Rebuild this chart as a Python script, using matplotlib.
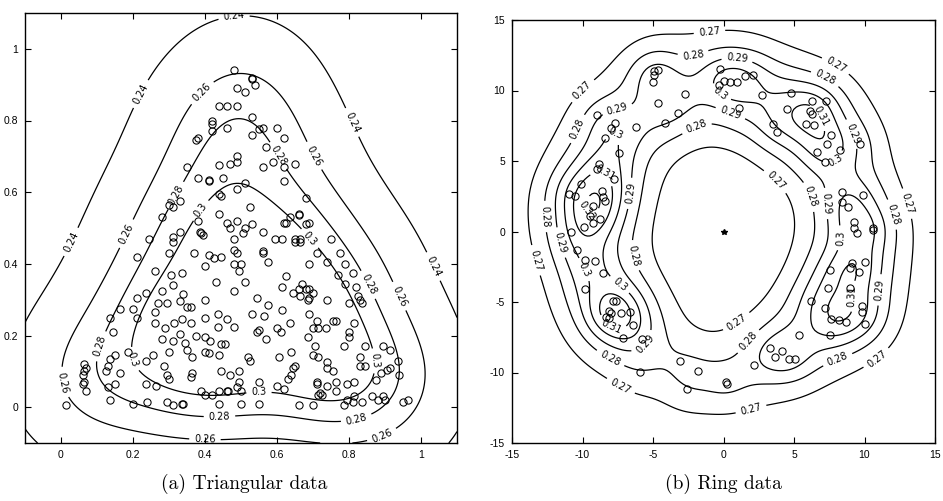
import numpy as np
import matplotlib
matplotlib.use("Agg")
import matplotlib.pyplot as plt

# ---------------- data: triangular set ----------------
tri_pts = [
(0.48,0.94),(0.53,0.92),(0.53,0.915),(0.54,0.90),(0.49,0.89),(0.51,0.88),
(0.44,0.84),(0.46,0.84),(0.49,0.84),(0.53,0.81),(0.42,0.80),(0.42,0.79),(0.42,0.77),(0.46,0.78),(0.56,0.78),(0.55,0.775),(0.60,0.78),(0.53,0.76),(0.62,0.75),(0.38,0.75),(0.375,0.745),(0.57,0.725),(0.49,0.70),
(0.35,0.67),(0.44,0.675),(0.47,0.68),(0.49,0.685),(0.45,0.64),(0.59,0.685),(0.56,0.67),(0.62,0.67),(0.65,0.68),(0.38,0.64),(0.41,0.63),(0.41,0.635),(0.62,0.63),(0.49,0.61),(0.51,0.625),(0.44,0.595),(0.445,0.59),(0.33,0.575),(0.31,0.56),(0.30,0.565),(0.68,0.585),(0.525,0.56),
(0.28,0.53),(0.38,0.52),(0.44,0.54),(0.46,0.515),(0.47,0.50),(0.49,0.52),(0.66,0.54),(0.66,0.535),(0.62,0.515),(0.625,0.515),(0.635,0.53),(0.68,0.51),(0.69,0.515),(0.53,0.51),(0.51,0.50),(0.505,0.485),(0.56,0.49),(0.385,0.49),(0.39,0.485),(0.395,0.48),(0.33,0.49),(0.31,0.475),(0.31,0.46),(0.245,0.47),(0.48,0.47),(0.595,0.47),(0.615,0.47),(0.65,0.47),(0.665,0.47),(0.75,0.47),(0.65,0.46),(0.665,0.46),
(0.48,0.44),(0.49,0.43),(0.37,0.43),(0.30,0.43),(0.21,0.42),(0.41,0.425),(0.425,0.415),(0.445,0.42),(0.56,0.435),(0.56,0.43),(0.71,0.43),(0.775,0.43),(0.40,0.395),(0.48,0.40),(0.50,0.40),(0.575,0.405),(0.69,0.40),(0.74,0.405),(0.79,0.40),(0.495,0.38),(0.26,0.38),(0.305,0.37),(0.335,0.375),(0.625,0.365),(0.77,0.37),(0.81,0.375),
(0.43,0.35),(0.51,0.35),(0.79,0.345),(0.615,0.335),(0.82,0.335),(0.31,0.34),(0.28,0.325),(0.34,0.315),(0.235,0.32),(0.48,0.325),(0.645,0.32),(0.66,0.33),(0.67,0.345),(0.68,0.33),(0.69,0.33),(0.70,0.32),(0.665,0.31),(0.685,0.30),(0.69,0.305),(0.21,0.305),(0.27,0.29),(0.295,0.29),(0.33,0.295),(0.35,0.28),(0.36,0.28),(0.40,0.30),(0.545,0.305),(0.575,0.285),(0.615,0.27),(0.74,0.30),(0.825,0.31),(0.83,0.30),(0.835,0.29),(0.80,0.29),
(0.20,0.275),(0.165,0.275),(0.26,0.265),(0.21,0.25),(0.135,0.25),(0.315,0.235),(0.335,0.245),(0.36,0.235),(0.26,0.235),(0.40,0.25),(0.435,0.26),(0.435,0.225),(0.46,0.245),(0.48,0.225),(0.53,0.26),(0.565,0.255),(0.69,0.26),(0.29,0.22),(0.33,0.205),(0.145,0.21),(0.375,0.20),(0.40,0.195),(0.415,0.185),(0.28,0.19),(0.31,0.185),(0.345,0.18),(0.35,0.16),(0.445,0.175),(0.455,0.175),(0.635,0.235),(0.70,0.22),(0.71,0.24),(0.715,0.22),(0.735,0.22),(0.755,0.24),(0.765,0.24),(0.815,0.235),(0.80,0.21),(0.80,0.195),(0.545,0.21),(0.55,0.215),(0.60,0.22),(0.61,0.21),(0.57,0.19),(0.685,0.195),
(0.30,0.155),(0.365,0.14),(0.40,0.155),(0.41,0.15),(0.44,0.145),(0.15,0.145),(0.135,0.135),(0.13,0.115),(0.185,0.155),(0.255,0.145),(0.235,0.13),(0.785,0.17),(0.845,0.17),(0.895,0.17),(0.915,0.16),(0.705,0.17),(0.64,0.155),(0.70,0.145),(0.715,0.14),(0.605,0.14),(0.52,0.14),(0.525,0.13),(0.83,0.14),(0.83,0.115),(0.845,0.115),(0.74,0.125),(0.74,0.11),(0.755,0.10),(0.65,0.115),(0.645,0.11),(0.64,0.09),(0.63,0.08),
(0.065,0.12),(0.07,0.11),(0.065,0.10),(0.125,0.10),(0.165,0.095),(0.06,0.09),(0.065,0.07),(0.06,0.065),(0.07,0.045),(0.15,0.065),(0.13,0.055),(0.235,0.065),(0.265,0.06),(0.285,0.115),(0.295,0.09),(0.30,0.08),(0.365,0.095),(0.36,0.085),(0.445,0.10),(0.47,0.09),(0.495,0.10),(0.495,0.07),(0.935,0.13),(0.89,0.095),(0.905,0.105),(0.915,0.11),(0.94,0.09),(0.875,0.075),(0.71,0.07),(0.71,0.065),(0.55,0.07),(0.60,0.06),(0.74,0.06),(0.765,0.07),(0.765,0.045),(0.795,0.065),(0.815,0.07),(0.72,0.04),(0.725,0.035),(0.715,0.035),(0.62,0.05),(0.50,0.045),(0.46,0.045),(0.39,0.045),(0.40,0.035),(0.42,0.035),(0.44,0.045),(0.465,0.045),(0.49,0.055),
(0.88,0.02),(0.865,0.03),(0.895,0.03),(0.90,0.02),(0.815,0.03),(0.835,0.015),(0.795,0.02),(0.81,0.015),(0.785,0.005),(0.965,0.02),(0.95,0.015),(0.70,0.005),(0.66,0.005),(0.55,0.01),(0.50,0.01),(0.135,0.02),(0.015,0.005),(0.20,0.01),(0.24,0.015),(0.295,0.015),(0.31,0.005),(0.335,0.01),(0.34,0.01),(0.44,0.01),
]
tri_levels = [0.24, 0.26, 0.28, 0.3]
# points where contour lines of the reference cross (x, y, level)
tri_anchors = [
(0.48,1.095,0.24),(-0.1,0.27,0.24),(1.1,0.37,0.24),(0.21,0.88,0.24),(0.82,0.80,0.24),(1.025,0.47,0.24),(-0.09,-0.08,0.24),(0.01,0.47,0.24),
(0.40,0.87,0.26),(0.015,0.14,0.26),(0.01,0.06,0.26),(0.40,-0.085,0.26),(0.94,0.31,0.26),(0.70,0.70,0.26),(0.48,0.91,0.26),(0.89,-0.075,0.26),(0.18,0.485,0.26),
(0.11,0.17,0.28),(0.44,-0.02,0.28),(0.85,0.34,0.28),(0.60,0.70,0.28),(0.32,0.59,0.28),(0.50,0.80,0.28),(0.82,-0.03,0.28),(0.136,0.05,0.28),
(0.19,0.13,0.3),(0.55,0.04,0.3),(0.88,0.13,0.3),(0.50,0.65,0.3),(0.38,0.555,0.3),(0.48,0.036,0.3),
]
tri_label_pos = [
(0.48,1.095),(0.21,0.88),(0.82,0.80),(0.01,0.47),(1.05,0.40),
(0.40,0.87),(0.18,0.485),(0.70,0.70),(0.01,0.07),(0.40,-0.085),(0.89,-0.075),(0.94,0.31),
(0.32,0.59),(0.60,0.70),(0.11,0.17),(0.44,-0.02),(0.82,-0.03),(0.85,0.34),
(0.38,0.555),(0.19,0.13),(0.69,0.47),(0.55,0.04),(0.88,0.13),
]

# ---------------- data: ring set ----------------
ring_pts = [
(-4.95,11.4),(-4.67,11.45),(-4.9,11.1),(-5.0,10.6),(-4.65,9.1),(-2.73,9.75),(-3.2,8.43),(-4.17,7.7),(-6.2,7.4),(-8.97,8.26),(-7.95,7.36),(-7.7,7.67),(-8.43,6.6),(-7.41,5.6),(-8.8,4.76),(-9.0,4.4),(-7.79,3.72),(-10.1,3.35),(-10.98,2.64),(-10.5,2.5),(-8.62,2.9),(-8.55,2.47),(-8.38,2.16),(-9.28,1.81),(-9.44,1.12),(-8.78,0.89),(-9.28,0.58),(-9.9,0.3),(-10.8,0.0),
(-10.4,-1.3),(-9.8,-2.05),(-9.1,-2.1),(-8.57,-2.95),(-9.85,-4.06),(-7.84,-4.95),(-7.65,-4.95),(-8.14,-5.66),(-7.98,-5.78),(-8.31,-6.06),(-8.1,-6.15),(-7.27,-5.78),(-6.6,-5.73),(-6.42,-6.6),(-7.15,-7.55),(-5.76,-7.62),(-5.9,-9.95),(-3.1,-9.2),(-1.78,-9.9),(-2.6,-11.15),
(-0.24,11.53),(-0.35,10.42),(0.0,10.7),(0.47,10.6),(0.99,10.6),(1.53,11.06),(2.12,11.13),(2.71,9.65),(4.76,9.81),(4.53,8.66),(6.3,9.25),(7.26,9.29),(6.13,8.54),(6.25,8.35),(5.85,7.6),(6.42,7.53),(7.62,6.82),(7.36,6.19),(6.6,5.65),(7.19,4.94),(8.25,5.81),(9.67,6.24),(1.13,8.75),(3.54,7.65),(3.82,7.06),
(8.4,2.78),(8.4,2.12),(8.84,1.76),(9.9,2.59),(9.25,0.7),(9.25,0.24),(10.57,0.24),(10.6,0.1),
(9.48,-0.12),(9.08,-2.24),(8.96,-2.59),(10.07,-2.19),(9.62,-2.87),(7.55,-2.75),(7.43,-4.0),(8.96,-4.0),(6.18,-4.94),(7.19,-5.41),(7.62,-6.19),(8.21,-6.28),(8.66,-6.42),(9.79,-5.29),(9.79,-5.72),(10.0,-6.59),(7.55,-7.36),(5.38,-7.34),(3.3,-8.24),(4.13,-8.47),(3.66,-8.89),(4.67,-9.06),(5.07,-9.06),(2.19,-9.46),(0.24,-10.82),(0.15,-10.7),
]
ring_center = (0.0, 0.0)
ring_levels = [0.27, 0.28, 0.29, 0.3, 0.31, 0.32]
ring_anchors = [
(-10.15,10.15,0.27),(-1.0,14.2,0.27),(8.02,11.88,0.27),(13.1,2.0,0.27),(11.08,-9.29,0.27),(2.0,-12.78,0.27),(-7.55,-11.44,0.27),(-13.58,-2.12,0.27),(-14.05,1.5,0.27),
(3.66,3.53,0.27),(1.06,-6.59,0.27),(-4.48,2.94,0.27),(-0.93,5.78,0.27),(0.24,-6.94,0.27),(-4.95,-2.0,0.27),(5.2,0.1,0.27),
(-10.4,7.3,0.28),(-12.87,1.05,0.28),(-8.14,-9.2,0.28),(8.14,-9.2,0.28),(11.9,1.18,0.28),(7.08,10.6,0.28),(-2.12,12.4,0.28),
(6.13,2.47,0.28),(2.0,-8.0,0.28),(-6.6,-1.77,0.28),(-1.88,7.32,0.28),
(-7.55,8.74,0.29),(-11.7,-0.83,0.29),(-5.66,-7.9,0.29),(10.85,-4.12,0.29),(9.2,6.94,0.29),(0.94,11.95,0.29),(-6.6,2.7,0.29),(7.43,2.0,0.29),
(-7.43,7.2,0.3),(-9.92,-2.71,0.3),(-7.55,-4.0,0.3),(8.73,-0.47,0.3),(7.67,5.41,0.3),(0.0,10.12,0.3),
(-8.38,4.24,0.31),(-7.9,-6.6,0.31),(6.49,8.0,0.31),(8.96,-4.59,0.31),
(-10.2,1.5,0.32),(-8.4,1.5,0.32),(-9.2,3.3,0.32),(-9.3,-0.4,0.32),
]
ring_label_pos = [
(-10.15,10.15),(-1.0,14.2),(8.02,11.88),(13.1,2.0),(11.08,-9.29),(2.0,-12.78),(-7.55,-11.44),(-13.58,-2.12),
(3.66,3.53),(1.06,-6.59),
(-10.4,7.3),(-12.87,1.05),(-8.14,-9.2),(8.14,-9.2),(11.9,1.18),(7.08,10.6),(-2.12,12.4),(6.13,2.47),(2.0,-8.0),(-6.6,-1.77),(-1.88,7.32),
(-7.55,8.74),(-11.7,-0.83),(-5.66,-7.9),(10.85,-4.12),(9.2,6.94),(0.94,11.95),(-6.6,2.7),(7.43,2.0),(0.6,8.7),
(-7.43,7.2),(-9.92,-2.71),(-7.55,-4.0),(8.73,-0.47),(7.67,5.41),(0.0,10.12),
(-8.38,4.24),(-7.9,-6.6),(6.49,8.0),(8.96,-4.59),(-10.0,1.3),
]


def kern(P, gx, gy, h):
    dx = gx[..., None] - P[:, 0]
    dy = gy[..., None] - P[:, 1]
    return np.exp(-(dx * dx + dy * dy) / (2 * h * h)).mean(-1)


def fit_field(P, anchors, hs):
    A = np.asarray(anchors, float)
    best = None
    for h1 in hs:
        for h2 in hs:
            if h2 < h1:
                continue
            M = np.column_stack([np.ones(len(A)), kern(P, A[:, 0], A[:, 1], h1),
                                 kern(P, A[:, 0], A[:, 1], h2)])
            coef, *_ = np.linalg.lstsq(M, A[:, 2], rcond=None)
            r = np.sum((M @ coef - A[:, 2]) ** 2)
            if best is None or r < best[0]:
                best = (r, h1, h2, coef)
    return best


def field(P, best, gx, gy):
    _, h1, h2, c = best
    return c[0] + c[1] * kern(P, gx, gy, h1) + c[2] * kern(P, gx, gy, h2)


fmt = lambda v: f"{v:g}"

fig = plt.figure(figsize=(9.43, 5.01), dpi=100)
ax1 = fig.add_axes([25 / 943, 58 / 501, 432 / 943, 430 / 501])
ax2 = fig.add_axes([512 / 943, 58 / 501, 423 / 943, 423 / 501])

tick_font = dict(family="Liberation Sans", size=7.5)

# ---- triangular ----
TP = np.array(tri_pts)
best_t = fit_field(TP, tri_anchors, [0.04, 0.06, 0.08, 0.1, 0.12, 0.15, 0.18, 0.22, 0.27, 0.33, 0.4, 0.5])
gx, gy = np.meshgrid(np.linspace(-0.1, 1.1, 181), np.linspace(-0.1, 1.1, 181))
Zt = field(TP, best_t, gx, gy)
cs1 = ax1.contour(gx, gy, Zt, levels=tri_levels, colors="black", linewidths=0.9)
ax1.clabel(cs1, manual=tri_label_pos, inline=True, fontsize=7, fmt=fmt)
ax1.plot(TP[:, 0], TP[:, 1], "o", mfc="none", mec="black", ms=5.2, mew=0.75)
ax1.set_xlim(-0.1, 1.1)
ax1.set_ylim(-0.1, 1.1)
ax1.set_xticks([0, 0.2, 0.4, 0.6, 0.8, 1])
ax1.set_yticks([0, 0.2, 0.4, 0.6, 0.8, 1])
ax1.set_xticklabels(["0", "0.2", "0.4", "0.6", "0.8", "1"], **tick_font)
ax1.set_yticklabels(["0", "0.2", "0.4", "0.6", "0.8", "1"], **tick_font)

# ---- ring ----
RP = np.array(ring_pts)
best_r = fit_field(RP, ring_anchors, [1.2, 1.4, 1.6, 1.8, 2.0, 2.5, 3.0, 3.5, 4.0, 5.0, 6.0, 8.0])
hx, hy = np.meshgrid(np.linspace(-15, 15, 181), np.linspace(-15, 15, 181))
Zr = field(RP, best_r, hx, hy)
cs2 = ax2.contour(hx, hy, Zr, levels=ring_levels, colors="black", linewidths=0.9)
ax2.clabel(cs2, manual=ring_label_pos, inline=True, fontsize=7, fmt=fmt)
ax2.plot(RP[:, 0], RP[:, 1], "o", mfc="none", mec="black", ms=5.2, mew=0.75)
ax2.plot([ring_center[0]], [ring_center[1]], "*", color="black", ms=4)
ax2.set_xlim(-15, 15)
ax2.set_ylim(-15, 15)
rt = [-15, -10, -5, 0, 5, 10, 15]
ax2.set_xticks(rt)
ax2.set_yticks(rt)
ax2.set_xticklabels([str(t) for t in rt], **tick_font)
ax2.set_yticklabels([str(t) for t in rt], **tick_font)

for ax in (ax1, ax2):
    ax.tick_params(direction="in", top=True, right=True, length=4, width=0.8, pad=5)
    for s in ax.spines.values():
        s.set_linewidth(1.0)

fig.text(244 / 943, 1 - 484 / 501, "(a) Triangular data", ha="center", va="center",
         family="cmr10", fontsize=14)
fig.text(723 / 943, 1 - 484 / 501, "(b) Ring data", ha="center", va="center",
         family="cmr10", fontsize=14)

fig.savefig("out.png", dpi=100)
